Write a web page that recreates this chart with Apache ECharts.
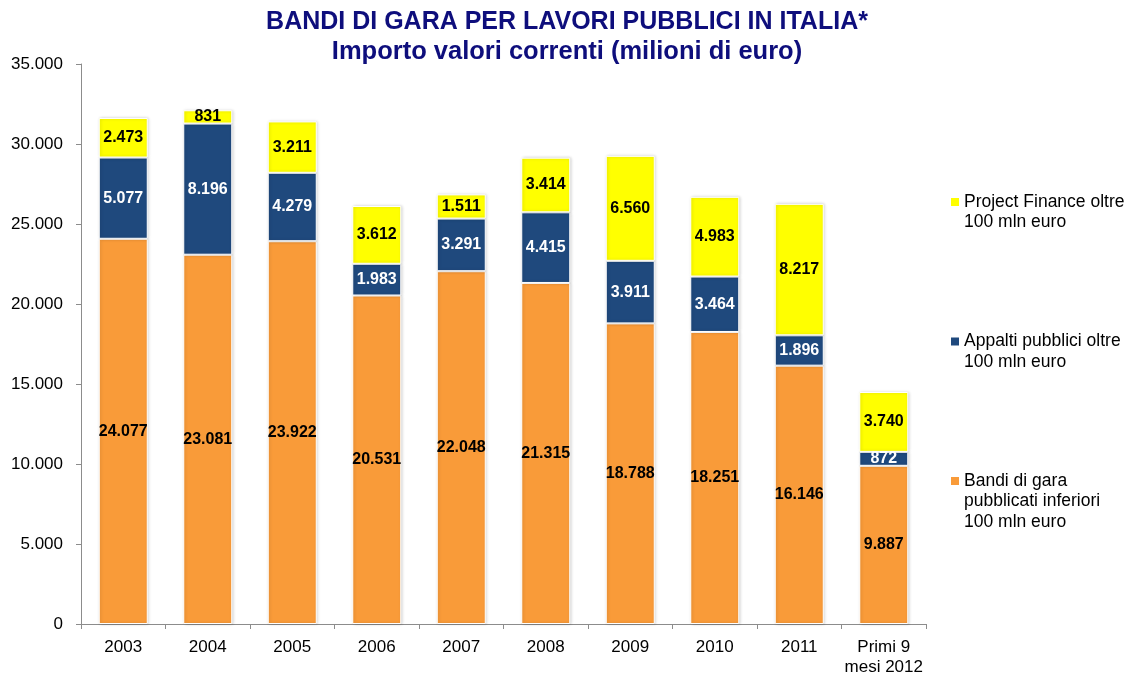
<!DOCTYPE html>
<html>
<head>
<meta charset="utf-8">
<title>Bandi di gara per lavori pubblici in Italia</title>
<script src="https://cdn.jsdelivr.net/npm/echarts@6/dist/echarts.min.js"></script>
<style>
  html, body { margin: 0; padding: 0; background: #fff; }
  #chart { width: 1134px; height: 677px; }
</style>
</head>
<body>
<div id="chart"></div>
<script>
// Categories (years) shown on the x axis
const categories = ['2003', '2004', '2005', '2006', '2007', '2008', '2009', '2010', '2011', 'Primi 9\nmesi 2012'];

// Importo in milioni di euro, valori correnti
const bandiInferiori = [24077, 23081, 23922, 20531, 22048, 21315, 18788, 18251, 16146, 9887];
const appaltiOltre   = [5077, 8196, 4279, 1983, 3291, 4415, 3911, 3464, 1896, 872];
const projectFinance = [2473, 831, 3211, 3612, 1511, 3414, 6560, 4983, 8217, 3740];

// Series names and the wrapped legend lines
const nameBandi = 'Bandi di gara pubblicati inferiori 100 mln euro';
const nameAppalti = 'Appalti pubblici oltre 100 mln euro';
const namePF = 'Project Finance oltre 100 mln euro';
const legendLines = {};
legendLines[namePF] = ['Project Finance oltre', '100 mln euro'];
legendLines[nameAppalti] = ['Appalti pubblici oltre', '100 mln euro'];
legendLines[nameBandi] = ['Bandi di gara', 'pubblicati inferiori', '100 mln euro'];

// Y axis range
const yMin = 0, yMax = 35000, yStep = 5000;

const colors = { bandi: '#F99B39', appalti: '#1F497D', pf: '#FFFF00' };
const markerKey = {};
markerKey[namePF] = 'mPF';
markerKey[nameAppalti] = 'mAP';
markerKey[nameBandi] = 'mBA';

// Italian thousands separator
function fmt(v) {
  return String(Math.round(v)).replace(/\B(?=(\d{3})+(?!\d))/g, '.');
}

const FONT = '"Liberation Sans", Arial, sans-serif';

function barSeries(name, data, fill, labelColor) {
  return {
    name: name,
    type: 'bar',
    stack: 'tot',
    data: data,
    barWidth: 49,
    itemStyle: {
      color: fill,
      borderColor: '#ffffff',
      borderWidth: 1,
      shadowBlur: 3,
      shadowColor: 'rgba(0,0,0,0.18)',
      shadowOffsetX: 1,
      shadowOffsetY: 0
    },
    label: {
      show: true,
      position: 'inside',
      formatter: p => fmt(p.value),
      color: labelColor,
      fontFamily: FONT,
      fontWeight: 'bold',
      fontSize: 16
    },
    emphasis: { disabled: true }
  };
}

const chart = echarts.init(document.getElementById('chart'), null, { renderer: 'canvas' });

chart.setOption({
  animation: false,
  backgroundColor: '#ffffff',
  title: {
    left: 'center',
    top: 3,
    itemGap: 1,
    text: 'BANDI DI GARA PER LAVORI PUBBLICI IN ITALIA*',
    subtext: 'Importo valori correnti (milioni di euro)',
    textStyle: { color: '#0e0e7c', fontFamily: FONT, fontWeight: 'bold', fontSize: 25, lineHeight: 28 },
    subtextStyle: { color: '#0e0e7c', fontFamily: FONT, fontWeight: 'bold', fontSize: 25.5, lineHeight: 29 }
  },
  legend: {
    orient: 'vertical',
    left: 946,
    top: 193,
    itemGap: 101,
    icon: 'none',
    itemWidth: 0,
    itemHeight: 0,
    padding: 0,
    selectedMode: false,
    data: [namePF, nameAppalti, nameBandi],
    formatter: function (name) {
      const lines = legendLines[name];
      let s = '{' + markerKey[name] + '|}{g|}{t|' + lines[0] + '}';
      for (let i = 1; i < lines.length; i++) {
        s += '\n{s|}{t|' + lines[i] + '}';
      }
      return s;
    },
    textStyle: {
      fontFamily: FONT,
      fontSize: 17.5,
      color: '#000',
      padding: 0,
      rich: {
        mPF: { width: 8, height: 8, backgroundColor: colors.pf },
        mAP: { width: 8, height: 8, backgroundColor: colors.appalti },
        mBA: { width: 8, height: 8, backgroundColor: colors.bandi },
        g: { width: 5 },
        s: { width: 13 },
        t: { fontFamily: FONT, fontSize: 17.5, lineHeight: 20.5, color: '#000' }
      }
    }
  },
  grid: { left: 81, right: 208, top: 64, bottom: 52.5, containLabel: false },
  xAxis: {
    type: 'category',
    data: categories,
    axisLine: { show: true, lineStyle: { color: '#8c8c8c', width: 1 } },
    axisTick: { show: true, alignWithLabel: false, length: 5, lineStyle: { color: '#8c8c8c' } },
    axisLabel: { fontFamily: FONT, fontSize: 17, lineHeight: 20, color: '#000', margin: 13, interval: 0 },
    splitLine: { show: false }
  },
  yAxis: {
    type: 'value',
    min: yMin,
    max: yMax,
    interval: yStep,
    axisLine: { show: true, lineStyle: { color: '#8c8c8c', width: 1 } },
    axisTick: { show: true, length: 5, lineStyle: { color: '#8c8c8c' } },
    axisLabel: { fontFamily: FONT, fontSize: 17, color: '#000', margin: 18, formatter: v => fmt(v) },
    splitLine: { show: false }
  },
  series: [
    barSeries(nameBandi, bandiInferiori, colors.bandi, '#000000'),
    barSeries(nameAppalti, appaltiOltre, colors.appalti, '#ffffff'),
    barSeries(namePF, projectFinance, colors.pf, '#000000')
  ]
});
</script>
</body>
</html>
